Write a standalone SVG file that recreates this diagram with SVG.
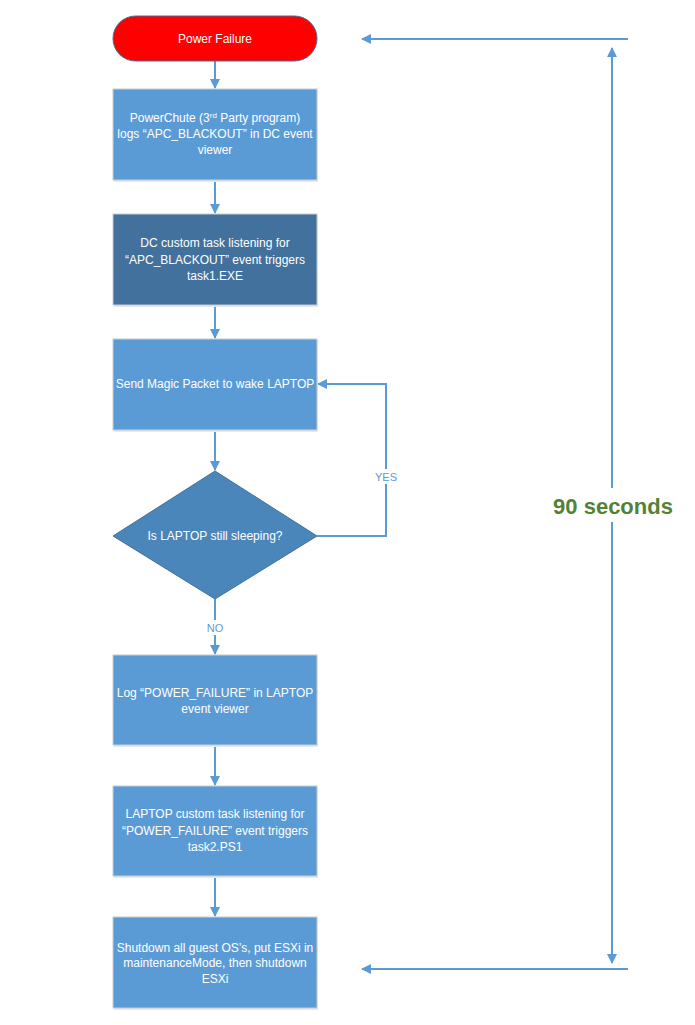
<svg xmlns="http://www.w3.org/2000/svg" width="695" height="1025" viewBox="0 0 695 1025">
<style>
.box{fill:#5B9BD5;stroke:#C8CDD3;stroke-width:1}
.dark{fill:#41719C;stroke:#C8CDD3;stroke-width:1}
.t{font-family:"Liberation Sans",Arial,sans-serif;font-size:12px;fill:#FFFFFF;text-anchor:middle}
.c{fill:none;stroke:#5B9BD5;stroke-width:2}
.lbl{font-family:"Liberation Sans",Arial,sans-serif;font-size:11px;fill:#5B9BD5;text-anchor:middle}
.sh{fill:#E4E9F0}
</style>
<defs>
<marker id="ah" viewBox="0 0 10 10" refX="9" refY="5" markerWidth="5" markerHeight="5" orient="auto" markerUnits="strokeWidth">
<path d="M0,0 L10,5 L0,10 z" fill="#5B9BD5"/>
</marker>
</defs>
<rect width="695" height="1025" fill="#FFFFFF"/>
<g id="connectors">
<line class="c" x1="215" y1="61" x2="215" y2="88" marker-end="url(#ah)"/>
<line class="c" x1="215" y1="180" x2="215" y2="213" marker-end="url(#ah)"/>
<line class="c" x1="215" y1="305" x2="215" y2="338" marker-end="url(#ah)"/>
<line class="c" x1="215" y1="430" x2="215" y2="470" marker-end="url(#ah)"/>
<polyline class="c" points="317,536 386,536 386,384 318,384" marker-end="url(#ah)"/>
<line class="c" x1="215" y1="599" x2="215" y2="654" marker-end="url(#ah)"/>
<line class="c" x1="215" y1="745" x2="215" y2="785" marker-end="url(#ah)"/>
<line class="c" x1="215" y1="876" x2="215" y2="916" marker-end="url(#ah)"/>
<line class="c" x1="628" y1="39" x2="362" y2="39" marker-end="url(#ah)"/>
<line class="c" x1="628" y1="969" x2="362" y2="969" marker-end="url(#ah)"/>
<line class="c" x1="612" y1="488" x2="612" y2="48" marker-end="url(#ah)"/>
<line class="c" x1="612" y1="522" x2="612" y2="963" marker-end="url(#ah)"/>
<rect x="372" y="469" width="28" height="15" fill="#FFFFFF"/>
<text class="lbl" x="386" y="481">YES</text>
<rect x="203" y="620" width="24" height="15" fill="#FFFFFF"/>
<text class="lbl" x="215" y="632">NO</text>
</g>
<g id="start">
<rect x="113" y="16" width="204" height="45" rx="22.5" fill="#FF0000" stroke="#41719C" stroke-width="1"/>
<text class="t" x="215" y="43">Power Failure</text>
</g>
<g id="n1">
<rect class="sh" x="114" y="90" width="204" height="92"/>
<rect class="box" x="113" y="89" width="204" height="91"/>
<text class="t" x="215" y="122">PowerChute (3<tspan font-size="8" dy="-4">rd</tspan><tspan dy="4"> Party program)</tspan></text>
<text class="t" x="215" y="138">logs “APC_BLACKOUT” in DC event</text>
<text class="t" x="215" y="154">viewer</text>
</g>
<g id="n2">
<rect class="sh" x="114" y="215" width="204" height="92"/>
<rect class="dark" x="113" y="214" width="204" height="91"/>
<text class="t" x="215" y="247">DC custom task listening for</text>
<text class="t" x="215" y="264">“APC_BLACKOUT” event triggers</text>
<text class="t" x="215" y="280">task1.EXE</text>
</g>
<g id="n3">
<rect class="sh" x="114" y="340" width="204" height="92"/>
<rect class="box" x="113" y="339" width="204" height="91"/>
<text class="t" x="215" y="388">Send Magic Packet to wake LAPTOP</text>
</g>
<g id="decision">
<polygon points="215,471 317,536 215,599 113,536" fill="#4A86BA" stroke="#41719C" stroke-width="1"/>
<text class="t" x="215" y="540">Is LAPTOP still sleeping?</text>
</g>
<g id="n4">
<rect class="sh" x="114" y="656" width="204" height="91"/>
<rect class="box" x="113" y="655" width="204" height="90"/>
<text class="t" x="215" y="697">Log “POWER_FAILURE” in LAPTOP</text>
<text class="t" x="215" y="713">event viewer</text>
</g>
<g id="n5">
<rect class="sh" x="114" y="787" width="204" height="91"/>
<rect class="box" x="113" y="786" width="204" height="90"/>
<text class="t" x="215" y="818">LAPTOP custom task listening for</text>
<text class="t" x="215" y="835">“POWER_FAILURE” event triggers</text>
<text class="t" x="215" y="851">task2.PS1</text>
</g>
<g id="n6">
<rect class="sh" x="114" y="918" width="204" height="92"/>
<rect class="box" x="113" y="917" width="204" height="91"/>
<text class="t" x="215" y="952">Shutdown all guest OS’s, put ESXi in</text>
<text class="t" x="215" y="967">maintenanceMode, then shutdown</text>
<text class="t" x="215" y="983">ESXi</text>
</g>
<g id="duration">
<text x="613" y="514" font-family="'Liberation Sans',Arial,sans-serif" font-size="22" font-weight="bold" fill="#548235" text-anchor="middle">90 seconds</text>
</g>
</svg>
